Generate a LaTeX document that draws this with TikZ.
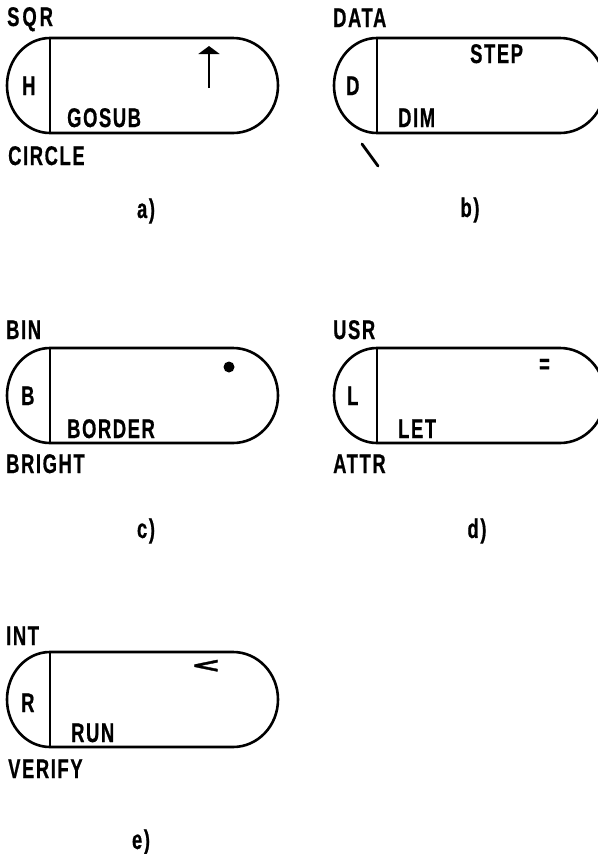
\documentclass[tikz,border=0pt]{standalone}
\usepackage{fontspec}
\usetikzlibrary{arrows.meta}
\newfontfamily\keyfont{Liberation Sans}[FakeStretch=0.68,LetterSpace=6,FakeBold=0.6]
\newfontfamily\symfont{DejaVu Sans}[FakeBold=1.5]

% One keycap: divider x (#1), top edge y (#2), in pixel-like units
\newcommand\keycap[2]{%
  \draw[capline] (#1,-#2) -- ({#1+183},-#2)
    arc[start angle=90,end angle=-90,x radius=45,y radius=47.5]
    -- (#1,{-#2-95})
    arc[start angle=270,end angle=90,x radius=43,y radius=47.5] -- cycle;
  \draw[divline] (#1,-#2) -- (#1,{-#2-95});
}

\begin{document}
\begin{tikzpicture}[x=1pt,y=1pt,
  capline/.style={line width=2.6pt,line join=round},
  divline/.style={line width=2.3pt},
  kw/.style={anchor=base west,inner sep=0pt,font=\keyfont\bfseries\fontsize{27}{27}\selectfont},
  keyletter/.style={kw},
  tag/.style={anchor=center,inner sep=0pt,font=\keyfont\bfseries\fontsize{27}{27}\selectfont}]
\useasboundingbox (0,0) rectangle (597,-854);

% a) H key
\keycap{50}{38}
\node[kw]  (sqr)    at (7,-26)   {S\kern3pt Q\kern3pt R};
\node[keyletter] (h)      at (22,-95)  {H};
\node[kw]  (gosub)  at (67,-127) {GOSUB};
\node[kw]  (circle) at (8,-165)  {CIRCLE};
\coordinate (arrbot) at (209,-88);
\coordinate (arrtop) at (209,-46);
\draw[line width=2.6pt,-{Triangle[width=21pt,length=8pt]}] (arrbot) -- (arrtop);
\node[tag] (la) at (146,-211) {a)};

% b) D key
\keycap{377}{38}
\node[kw]  (data) at (333,-27)  {DATA};
\node[kw]  (step) at (470,-63)  {STEP};
\node[keyletter] (d)    at (346,-95)  {D};
\node[kw]  (dim)  at (398,-127) {DIM};
\coordinate (bsa) at (362,-144);
\coordinate (bsb) at (378,-166);
\draw[line width=2.8pt,line cap=round] (bsa) -- (bsb);
\node[tag] (lb) at (470,-210) {b)};

% c) B key
\keycap{50}{348}
\node[kw]  (bin)    at (6,-339)  {BIN};
\node[keyletter] (b)      at (21,-405) {B};
\node[kw]  (border) at (67,-438) {BORDER};
\node[kw]  (bright) at (6,-473)  {BRIGHT};
\fill (229,-367) circle (5.5);
\node[tag] (lc) at (146,-531) {c)};

% d) L key
\keycap{377}{348}
\node[kw]  (usr)  at (333,-339) {USR};
\node[tag] (eq)   at (544.5,-366) {=};
\node[keyletter] (l)    at (347,-405) {L};
\node[kw]  (let)  at (398,-438) {LET};
\node[kw]  (attr) at (333,-473) {ATTR};
\node[tag] (ld) at (477,-531) {d)};

% e) R key
\keycap{50}{652}
\node[kw]  (int)    at (6,-645)   {INT};
\node[anchor=center,inner sep=0pt,font=\symfont\bfseries\fontsize{24}{24}\selectfont]
  (lt) at (206,-666) {\scalebox{1.5}[0.85]{<}};
\node[keyletter] (r)      at (21,-712)  {R};
\node[kw]  (run)    at (71,-742)  {RUN};
\node[kw]  (verify) at (8,-778)   {VERIFY};
\node[tag] (le) at (141,-842) {e)};
\end{tikzpicture}
\end{document}
